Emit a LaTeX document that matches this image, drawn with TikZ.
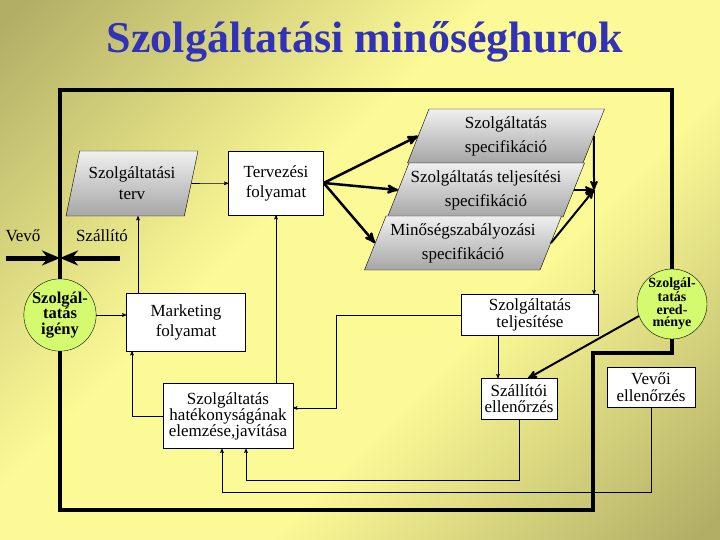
\documentclass[tikz,border=0pt]{standalone}
\usepackage{fontspec}
\setmainfont{Liberation Serif}
\usepackage{tikz}
\usetikzlibrary{shapes,arrows,arrows.meta}
\definecolor{bgdark}{RGB}{178,174,102}
\definecolor{bglight}{RGB}{252,250,150}
\definecolor{titleblue}{RGB}{50,50,185}
\definecolor{lime}{RGB}{212,250,112}
\pgfdeclarehorizontalshading{bgband}{100bp}{color(0bp)=(bgdark); color(16bp)=(bgdark);
  color(42bp)=(bglight); color(60bp)=(bglight); color(84bp)=(bgdark); color(100bp)=(bgdark)}

\begin{document}
\begin{tikzpicture}[->,>=stealth',x=1pt,y=-1pt,semithick]
  \tikzstyle{every node}=[font=\fontsize{17}{20}\selectfont,align=center]
  \tikzstyle{process}=[rectangle,draw,thin,fill=white,inner sep=1pt]
  \tikzstyle{tight}=[font=\fontsize{17}{16}\selectfont]
  \tikzstyle{document}=[trapezium,trapezium left angle=65,trapezium right angle=115,
                        trapezium stretches body,draw,thin,top color=gray!12,bottom color=gray!70,
                        inner xsep=-40pt,minimum width=197pt,minimum height=54pt,
                        font=\fontsize{17}{24}\selectfont]
  \tikzstyle{goal}=[circle,draw,thin,fill=lime,minimum size=70pt,inner sep=0pt]
  \tikzstyle{loop}=[-,line width=4pt]
  \tikzstyle{flow}=[line width=2.5pt]
  \tikzstyle{side}=[-{Stealth[length=18pt,width=15pt]},line width=5pt]

  \shade[-,shading=bgband,shading angle=-45] (0,0) rectangle (720,540);
  \useasboundingbox (0,0) rectangle (720,540);

  \node[font=\bfseries\fontsize{44}{44}\selectfont,text=titleblue] (title) at (365,42)
    {Szolgáltatási minőséghurok};

  \node[document,trapezium left angle=71,trapezium right angle=109,minimum width=132pt,
        minimum height=65pt,font=\fontsize{17}{21}\selectfont] (terv) at (132,183.5)
    {Szolgáltatási\\terv};
  \node[process,minimum width=95pt,minimum height=64pt] (tervezes) at (276,183) {Tervezési\\folyamat};
  \node[document] (spec1) at (506,136) {Szolgáltatás\\specifikáció};
  \node[document] (spec2) at (486,190) {Szolgáltatás teljesítési\\specifikáció};
  \node[document] (spec3) at (463,243) {Minőségszabályozási\\specifikáció};

  \node[goal,font=\bfseries\fontsize{16.5}{15.5}\selectfont] (igeny) at (60,315) {Szolgál-\\tatás\\igény};
  \node[goal,font=\bfseries\fontsize{14}{12.5}\selectfont] (eredmeny) at (672,304)
    {Szolgál-\\tatás\\ered-\\ménye};
  \node[process,minimum width=119pt,minimum height=58pt] (marketing) at (186,322) {Marketing\\folyamat};
  \node[process,tight,minimum width=130pt,minimum height=65pt] (hatekony) at (228,416)
    {Szolgáltatás\\hatékonyságának\\elemzése,javítása};
  \node[process,font=\fontsize{17}{15}\selectfont,minimum width=137pt,minimum height=41pt]
    (teljesites) at (530,315) {Szolgáltatás\\teljesítése};
  \node[process,tight,minimum width=76pt,minimum height=41pt] (szallitoi) at (519,399)
    {Szállítói\\ellenőrzés};
  \node[process,font=\fontsize{17}{17}\selectfont,minimum width=88pt,minimum height=40pt]
    (vevoi) at (651,387) {Vevői\\ellenőrzés};

  \node (vevo) at (23,236) {Vevő};
  \node (szallito) at (102,236) {Szállító};

  % the outer quality loop
  \coordinate (loopnw) at (60,90);
  \coordinate (loopstep) at (593,353);
  \coordinate (loopsw) at (60,510);
  \draw[loop] (igeny.north) -- (loopnw) -| (eredmeny.north);
  \draw[loop] (eredmeny.south) |- (loopstep) |- (loopsw) -- (igeny.south);

  % customer / supplier boundary
  \coordinate (border) at (60,258);
  \coordinate (vevoside) at (6,258);
  \coordinate (szallitoside) at (120,258);
  \path (vevoside) edge[side] (border)
        (szallitoside) edge[side] (border);

  \coordinate (merge) at (594,190);
  \path (terv.east) edge (tervezes)
        (igeny.east) edge (igeny.east -| marketing.west)
        (tervezes.east) edge[flow] (spec1.left side)
                        edge[flow] (spec2.left side)
                        edge[flow] (spec3.left side)
        (spec1.right side) edge[line width=2pt] (merge)
        (spec2.right side) edge[line width=2pt] (merge)
        (spec3.right side) edge[line width=2pt] (merge)
        (merge) edge (merge |- teljesites.north)
        (eredmeny.200) edge[line width=2pt] ([xshift=9pt]szallitoi.north);

  \draw ([xshift=-48pt]marketing.north) -- ([xshift=-48pt]marketing.north |- terv.south);
  \draw (hatekony.west) -| ([xshift=-54pt]marketing.south);
  \draw (tervezes.south |- hatekony.north) -- (tervezes.south);
  \coordinate (feedback) at (336,408);
  \draw (teljesites.west) -| (feedback) -- (feedback -| hatekony.east);
  \draw ([xshift=-21pt]szallitoi.north |- teljesites.south) -- ([xshift=-21pt]szallitoi.north);
  \coordinate (szallitoiback) at (246,480);
  \coordinate (vevoiback) at (222,492);
  \draw (szallitoi.south) |- (szallitoiback) -- (szallitoiback |- hatekony.south);
  \draw (vevoi.south) |- (vevoiback) -- (vevoiback |- hatekony.south);
\end{tikzpicture}
\end{document}
